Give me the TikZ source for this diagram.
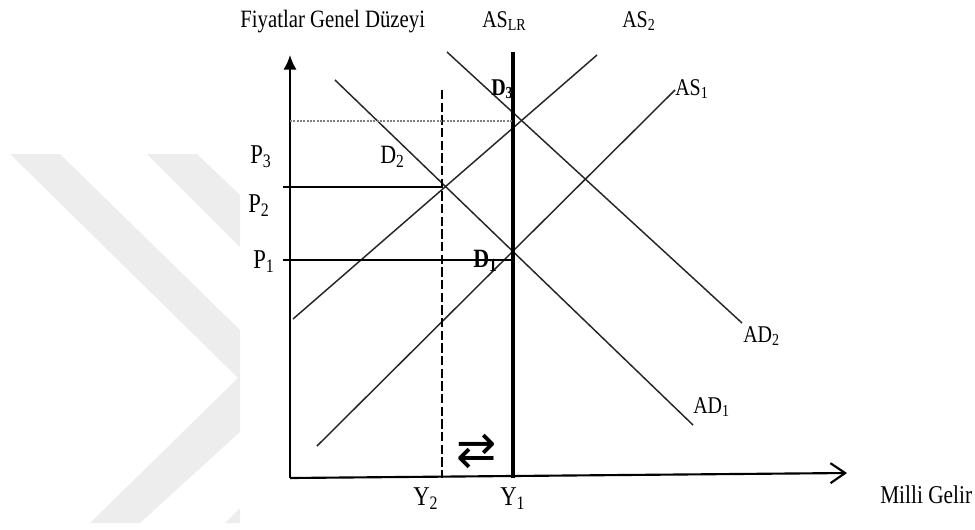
\documentclass[tikz,border=0pt]{standalone}
\usepackage{fontspec}
\setmainfont{Liberation Serif}
\newfontfamily\arrowfont{DejaVu Sans}
\usetikzlibrary{positioning,arrows.meta}
\newcommand{\vstretch}[1]{\scalebox{1}[1.2]{#1}}
\tikzset{
  curve/.style={line width=1.1pt,black!85},
  axis/.style={line width=1.6pt},
  guide/.style={line width=1.1pt},
  lbl/.style={inner sep=0pt,anchor=base west,font=\fontsize{15}{18}\selectfont},
  biglbl/.style={lbl,font=\fontsize{17}{20}\selectfont},
  wmark/.style={fill=black!7,draw=none},
}

\begin{document}
\begin{tikzpicture}[x=0.75pt,y=-0.75pt]
\useasboundingbox (0,0) rectangle (975,529);

% watermark in the back
\fill[wmark] (10,154) -- (60,154) -- (240,330) -- (240,432) -- (140,523)
  -- (90,523) -- (238,378) -- cycle;
\fill[wmark] (147,154) -- (197,154) -- (240,195) -- (240,247) -- cycle;
\fill[wmark] (225,523) -- (240,523) -- (240,508) -- cycle;

% axes
\coordinate (O) at (290,478);
\coordinate (ytop) at (290,55);
\coordinate (xend) at (847,473);
\draw[axis,-{Latex[length=11pt,width=10pt]}] (O) -- (ytop);
\draw[axis,-{Straight Barb[length=11pt,width=15pt]}] (O) -- (xend);

% supply and demand lines
\coordinate (as2a) at (293,319);  \coordinate (as2b) at (597,55);
\coordinate (as1a) at (317,446);  \coordinate (as1b) at (675,90);
\coordinate (ad1a) at (335,80);   \coordinate (ad1b) at (693,425);
\coordinate (ad2a) at (447,52);   \coordinate (ad2b) at (742,323);
\draw[curve] (as2a) -- (as2b);
\draw[curve] (as1a) -- (as1b);
\draw[curve] (ad1a) -- (ad1b);
\draw[curve] (ad2a) -- (ad2b);

% long run supply and Y2
\coordinate (lrt) at (513,52);   \coordinate (lrb) at (513,478);
\coordinate (y2t) at (442,90);   \coordinate (y2b) at (442,478);
\draw[line width=3pt] (lrt) -- (lrb);
\draw[guide,dash pattern=on 7pt off 2.5pt] (y2t) -- (y2b);

% price levels
\coordinate (p3a) at (290,121);  \coordinate (p3b) at (513,121);
\coordinate (p2a) at (283,187);  \coordinate (p2b) at (443,187);
\coordinate (p1a) at (283,260);  \coordinate (p1b) at (513,260);
\draw[guide,black!50,dash pattern=on 1.5pt off 1pt] (p3a) -- (p3b);
\draw[guide] (p2a) -- (p2b);
\draw[guide] (p1a) -- (p1b);

% labels
\node[lbl,font=\fontsize{15.6}{18}\selectfont] (ytitle) at (240,27) {\vstretch{Fiyatlar Genel Düzeyi}};
\node[lbl] (aslr) at (482,27) {\vstretch{AS\textsubscript{LR}}};
\node[lbl] (as2) at (622,27) {\vstretch{AS\textsubscript{2}}};
\node[lbl] (as1) at (675,95) {\vstretch{AS\textsubscript{1}}};
\node[lbl] (ad2) at (743,342) {\vstretch{AD\textsubscript{2}}};
\node[lbl] (ad1) at (693,413) {\vstretch{AD\textsubscript{1}}};
\node[lbl,font=\fontsize{16}{18}\selectfont] (xtitle) at (880,503) {\vstretch{Milli Gelir}};
\node[lbl] (d3) at (491,95) {\vstretch{\textbf{D\textsubscript{3}}}};
\node[lbl,font=\fontsize{16.5}{18}\selectfont] (d2) at (380,163) {\vstretch{D\textsubscript{2}}};
\node[lbl,font=\fontsize{16.5}{18}\selectfont] (d1) at (473,267) {\vstretch{\textbf{D\textsubscript{1}}}};
\node[biglbl] (p3) at (250,163) {\vstretch{P\textsubscript{3}}};
\node[biglbl] (p2) at (248,212) {\vstretch{P\textsubscript{2}}};
\node[biglbl] (p1) at (253,268) {\vstretch{P\textsubscript{1}}};
\node[biglbl] (y2) at (413,505) {\vstretch{Y\textsubscript{2}}};
\node[biglbl] (y1) at (500,505) {\vstretch{Y\textsubscript{1}}};
\node[inner sep=0pt,font=\arrowfont\fontsize{36}{36}\selectfont] (swap) at (477,451) {⇄};

\end{tikzpicture}
\end{document}
